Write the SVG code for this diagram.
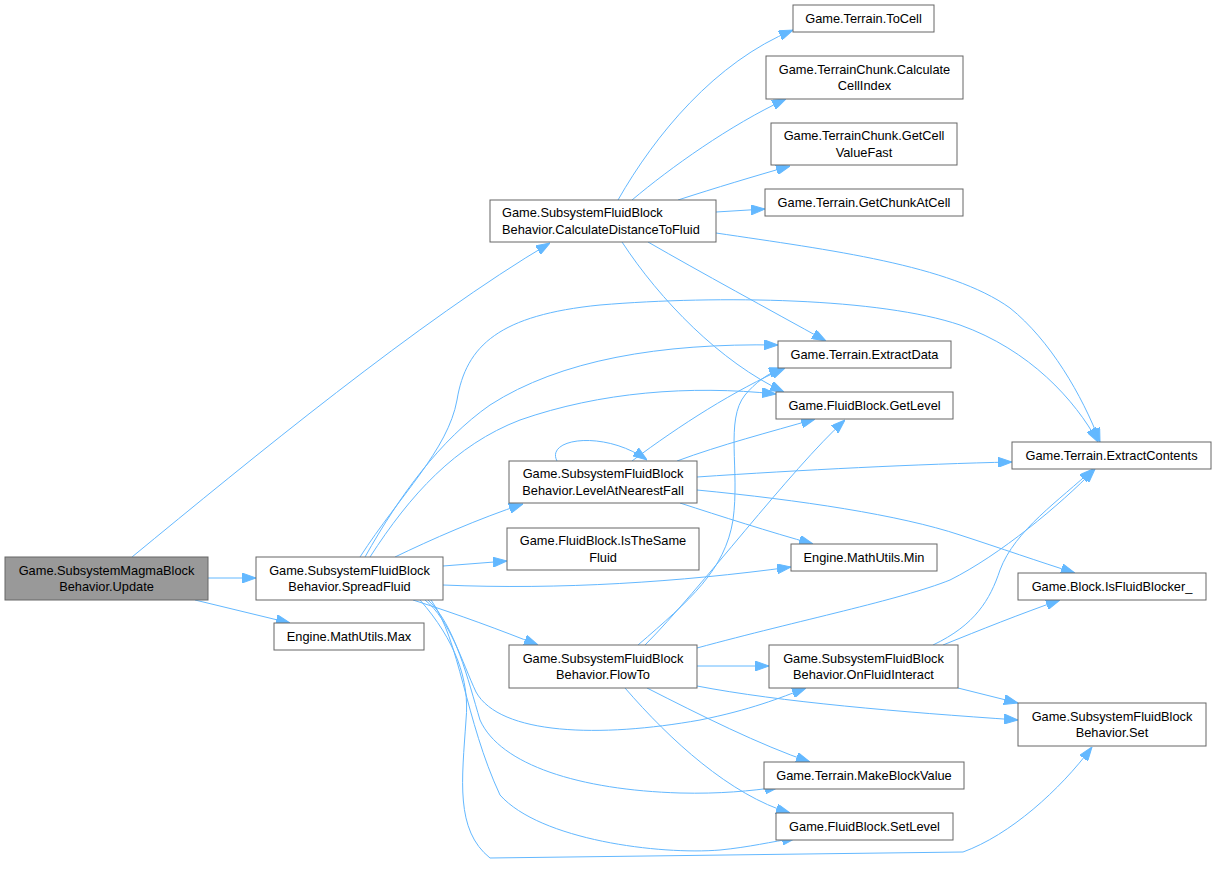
<svg xmlns="http://www.w3.org/2000/svg" width="1216" height="869" viewBox="0 0 1216 869">
<style>
.n rect{fill:#ffffff;stroke:#666666;stroke-width:1}
.n.root rect{fill:#999999}
.n text{font-family:"Liberation Sans",Arial,sans-serif;font-size:12.8px;fill:#000000;text-anchor:middle}
.n text.l{text-anchor:start}
.e path{fill:none;stroke:#63b8ff;stroke-width:1;marker-end:url(#ah)}
</style>
<defs>
<marker id="ah" markerUnits="userSpaceOnUse" markerWidth="14" markerHeight="10" viewBox="0 0 14 10" refX="14" refY="5" orient="auto">
<path d="M0,0 L14,5 L0,10 z" fill="#63b8ff" stroke="#63b8ff" stroke-width="1"/>
</marker>
</defs>
<rect width="1216" height="869" fill="#ffffff"/>
<g id="edges" class="e">
<!-- Update -->
<path d="M132,557 C250,460 420,320 550,243"/>
<path d="M208,578 L256,578"/>
<path d="M195,600 L290,623"/>
<!-- CalculateDistanceToFluid -->
<path d="M618,200 C655,135 715,62 793,30"/>
<path d="M632,200 C670,168 730,125 786,99"/>
<path d="M678,200 C715,188 755,176 790,166"/>
<path d="M716,212 L765,209"/>
<path d="M716,233 C830,250 950,265 1010,308 C1050,340 1082,395 1100,442"/>
<path d="M648,242 C700,272 770,310 826,341"/>
<path d="M622,242 C660,300 720,362 784,392"/>
<!-- SpreadFluid -->
<path d="M360,557 C400,495 448,450 457,400 C466,345 500,315 600,305 C720,295 880,298 960,325 C1030,350 1075,400 1098,442"/>
<path d="M365,557 C400,495 440,440 490,405 C560,360 660,343 778,345"/>
<path d="M370,557 C410,495 455,445 520,420 C600,392 690,385 776,394"/>
<path d="M395,557 C430,540 480,518 523,504"/>
<path d="M443,566 L507,561"/>
<path d="M443,585 C560,590 680,582 791,567"/>
<path d="M413,600 C460,615 500,630 538,645"/>
<path d="M425,600 C450,620 462,662 476,692 C500,735 600,738 700,720 C750,710 780,698 806,688"/>
<path d="M428,600 C455,625 468,680 480,720 C500,765 580,790 680,793 C720,794 750,791 779,787"/>
<path d="M431,600 C460,640 465,720 500,795 C540,840 660,855 720,850 C750,847 770,842 796,838"/>
<path d="M420,600 C455,640 470,680 466,720 C462,780 455,830 490,858 L963,852 C1010,835 1060,790 1092,747"/>
<!-- LevelAtNearestFall -->
<path d="M557,461 C545,438 605,430 647,460"/>
<path d="M632,461 C680,425 735,390 785,368"/>
<path d="M677,461 C720,445 770,432 815,419"/>
<path d="M697,477 C800,470 920,464 1012,462"/>
<path d="M680,503 C720,516 770,532 813,544"/>
<path d="M697,490 C800,500 900,515 960,535 C1000,548 1040,562 1075,573"/>
<!-- FlowTo -->
<path d="M638,645 C690,600 725,570 733,520 C740,470 725,420 745,395 C755,383 768,373 783,368"/>
<path d="M645,645 C700,590 790,470 845,420"/>
<path d="M697,648 C800,620 900,600 950,580 C1000,555 1060,505 1095,469"/>
<path d="M697,666 L769,666"/>
<path d="M697,686 C780,702 900,712 1018,720"/>
<path d="M647,688 C700,715 760,745 810,762"/>
<path d="M625,688 C670,740 730,795 790,813"/>
<!-- OnFluidInteract -->
<path d="M933,645 C975,625 990,600 1000,570 C1015,530 1060,500 1093,469"/>
<path d="M943,645 C980,630 1020,614 1060,600"/>
<path d="M958,688 L1018,703"/>
</g>
<g id="n_update" class="n root"><rect x="5" y="557" width="203" height="43"/><text x="106.5" y="574.5">Game.SubsystemMagmaBlock</text><text x="106.5" y="591">Behavior.Update</text></g>
<g id="n_spreadfluid" class="n"><rect x="256" y="557" width="187" height="43"/><text x="349.5" y="574.5">Game.SubsystemFluidBlock</text><text x="349.5" y="591">Behavior.SpreadFluid</text></g>
<g id="n_max" class="n"><rect x="274" y="623" width="150" height="27"/><text x="349" y="641">Engine.MathUtils.Max</text></g>
<g id="n_cdtf" class="n"><rect x="490" y="200" width="226" height="42"/><text class="l" x="502" y="217">Game.SubsystemFluidBlock</text><text class="l" x="502" y="233.5">Behavior.CalculateDistanceToFluid</text></g>
<g id="n_tocell" class="n"><rect x="793" y="5" width="141" height="27"/><text x="863.5" y="23">Game.Terrain.ToCell</text></g>
<g id="n_calccellindex" class="n"><rect x="766" y="56" width="197" height="43"/><text x="864.5" y="73.5">Game.TerrainChunk.Calculate</text><text x="864.5" y="90">CellIndex</text></g>
<g id="n_getcellvaluefast" class="n"><rect x="771" y="123" width="186" height="42"/><text x="864" y="140">Game.TerrainChunk.GetCell</text><text x="864" y="156.5">ValueFast</text></g>
<g id="n_getchunkatcell" class="n"><rect x="765" y="189" width="198" height="27"/><text x="864" y="207">Game.Terrain.GetChunkAtCell</text></g>
<g id="n_extractdata" class="n"><rect x="778" y="341" width="173" height="27"/><text x="864.5" y="359">Game.Terrain.ExtractData</text></g>
<g id="n_getlevel" class="n"><rect x="776" y="392" width="177" height="27"/><text x="864.5" y="410">Game.FluidBlock.GetLevel</text></g>
<g id="n_lanf" class="n"><rect x="509" y="461" width="188" height="42"/><text x="603" y="478">Game.SubsystemFluidBlock</text><text x="603" y="494.5">Behavior.LevelAtNearestFall</text></g>
<g id="n_isthesamefluid" class="n"><rect x="507" y="528" width="192" height="42"/><text x="603" y="545">Game.FluidBlock.IsTheSame</text><text x="603" y="561.5">Fluid</text></g>
<g id="n_min" class="n"><rect x="791" y="544" width="146" height="27"/><text x="864" y="562">Engine.MathUtils.Min</text></g>
<g id="n_flowto" class="n"><rect x="509" y="645" width="188" height="43"/><text x="603" y="662.5">Game.SubsystemFluidBlock</text><text x="603" y="679">Behavior.FlowTo</text></g>
<g id="n_onfluidinteract" class="n"><rect x="769" y="645" width="189" height="43"/><text x="863.5" y="662.5">Game.SubsystemFluidBlock</text><text x="863.5" y="679">Behavior.OnFluidInteract</text></g>
<g id="n_makeblockvalue" class="n"><rect x="764" y="762" width="200" height="27"/><text x="864" y="780">Game.Terrain.MakeBlockValue</text></g>
<g id="n_setlevel" class="n"><rect x="776" y="813" width="177" height="27"/><text x="864.5" y="831">Game.FluidBlock.SetLevel</text></g>
<g id="n_extractcontents" class="n"><rect x="1012" y="442" width="199" height="27"/><text x="1111.5" y="460">Game.Terrain.ExtractContents</text></g>
<g id="n_isfluidblocker" class="n"><rect x="1018" y="573" width="188" height="27"/><text x="1112" y="591">Game.Block.IsFluidBlocker_</text></g>
<g id="n_set" class="n"><rect x="1018" y="703" width="188" height="43"/><text x="1112" y="720.5">Game.SubsystemFluidBlock</text><text x="1112" y="737">Behavior.Set</text></g>
</svg>
